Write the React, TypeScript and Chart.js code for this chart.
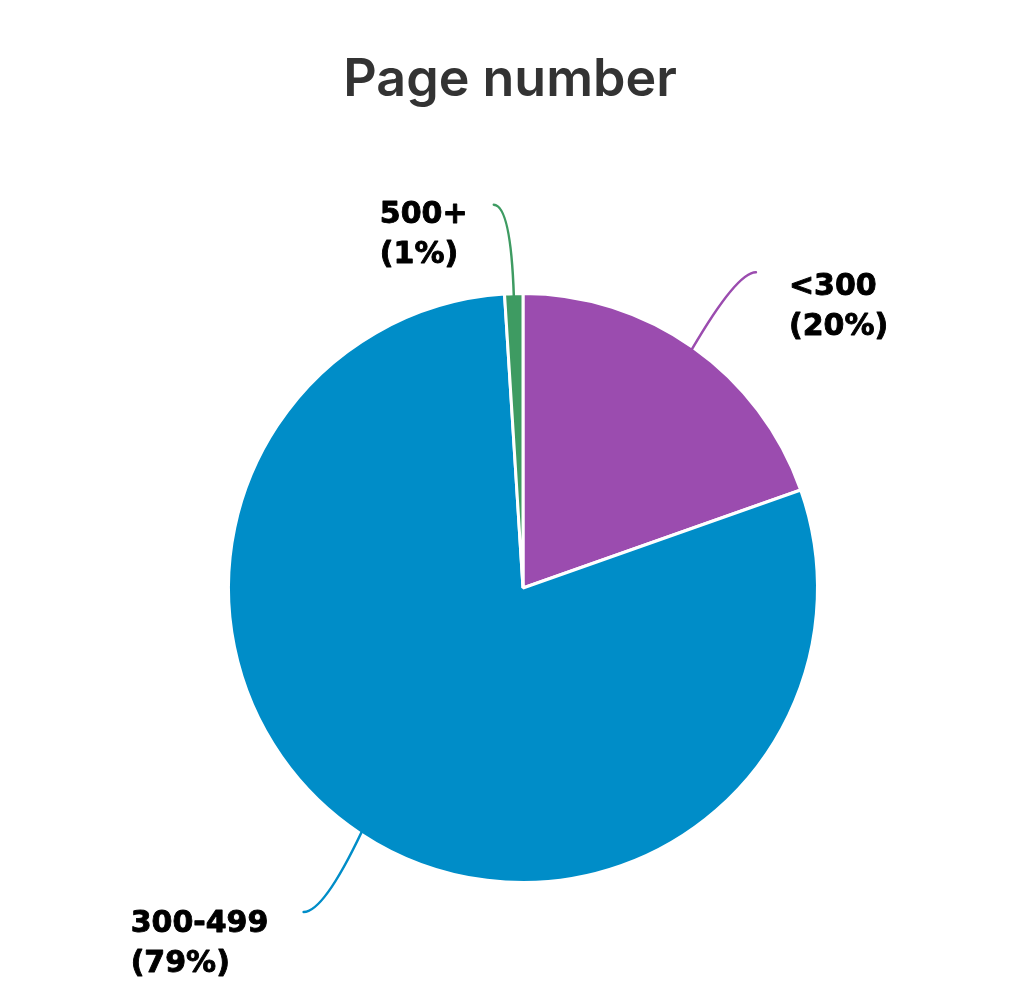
import React, { useEffect, useRef } from "react";
import { Chart, registerables } from "chart.js";

Chart.register(...registerables);

const TITLE = "Page number";
const categories = ["<300", "300-499", "500+"];
const values = [19.6, 79.4, 1.0];
const sliceColors = ["#9B4CAF", "#008DC8", "#3E9B62"];

// leader-line geometry, offsets from the slice's outer mid point
const lineEnd = [
  [64, -77],
  [-58, 80],
  [-20, -91],
];
const lineCtrl = [
  [45, -77],
  [-38, 80],
  [-3, -90],
];
const textOffset = [
  [33, 23],
  [-173, 20],
  [-114, 18],
];

const labelPlugin = {
  id: "customLabels",
  afterDraw(chart: any) {
    const ctx = chart.ctx;
    ctx.save();
    // title
    ctx.fillStyle = "#333333";
    ctx.font = "600 52px Inter";
    ctx.textAlign = "center";
    ctx.textBaseline = "alphabetic";
    ctx.fillText(TITLE, chart.width / 2, 96);

    const meta = chart.getDatasetMeta(0);
    meta.data.forEach((arc: any, i: number) => {
      const p = arc.getProps(["x", "y", "startAngle", "endAngle", "outerRadius"], true);
      const mid = (p.startAngle + p.endAngle) / 2;
      const r = p.outerRadius - 2;
      const sx = p.x + Math.cos(mid) * r;
      const sy = p.y + Math.sin(mid) * r;
      const ex = sx + lineEnd[i][0];
      const ey = sy + lineEnd[i][1];
      const cx = sx + lineCtrl[i][0];
      const cy = sy + lineCtrl[i][1];
      ctx.strokeStyle = sliceColors[i];
      ctx.lineWidth = 2.5;
      ctx.lineCap = "round";
      ctx.beginPath();
      ctx.moveTo(sx, sy);
      ctx.quadraticCurveTo(cx, cy, ex, ey);
      ctx.stroke();

      ctx.fillStyle = "#000000";
      ctx.strokeStyle = "#000000";
      ctx.lineWidth = 0.9;
      ctx.lineJoin = "round";
      ctx.font = "bold 30px 'DejaVu Sans'";
      ctx.textAlign = "left";
      const tx = ex + textOffset[i][0];
      const ty = ey + textOffset[i][1];
      const l1 = categories[i];
      const l2 = `(${Math.round(values[i])}%)`;
      ctx.fillText(l1, tx, ty);
      ctx.strokeText(l1, tx, ty);
      ctx.fillText(l2, tx, ty + 40);
      ctx.strokeText(l2, tx, ty + 40);
    });
    ctx.restore();
  },
};

export default function App() {
  const ref = useRef<HTMLCanvasElement | null>(null);
  useEffect(() => {
    document.body.style.margin = "0";
    const chart = new Chart(ref.current as HTMLCanvasElement, {
      type: "pie",
      data: {
        labels: categories,
        datasets: [
          {
            data: values,
            backgroundColor: sliceColors,
            borderColor: "#ffffff",
            borderWidth: 3,
          },
        ],
      },
      options: {
        responsive: false,
        animation: false,
        layout: { padding: { top: 292, bottom: 113, left: 227, right: 201 } },
        plugins: {
          legend: { display: false },
          tooltip: { enabled: false },
          title: { display: false },
        },
      },
      plugins: [labelPlugin],
    });
    return () => chart.destroy();
  }, []);
  return (
    <div style={{ width: 1020, height: 997, background: "#ffffff" }}>
      <canvas ref={ref} width={1020} height={997} style={{ display: "block" }} />
    </div>
  );
}
